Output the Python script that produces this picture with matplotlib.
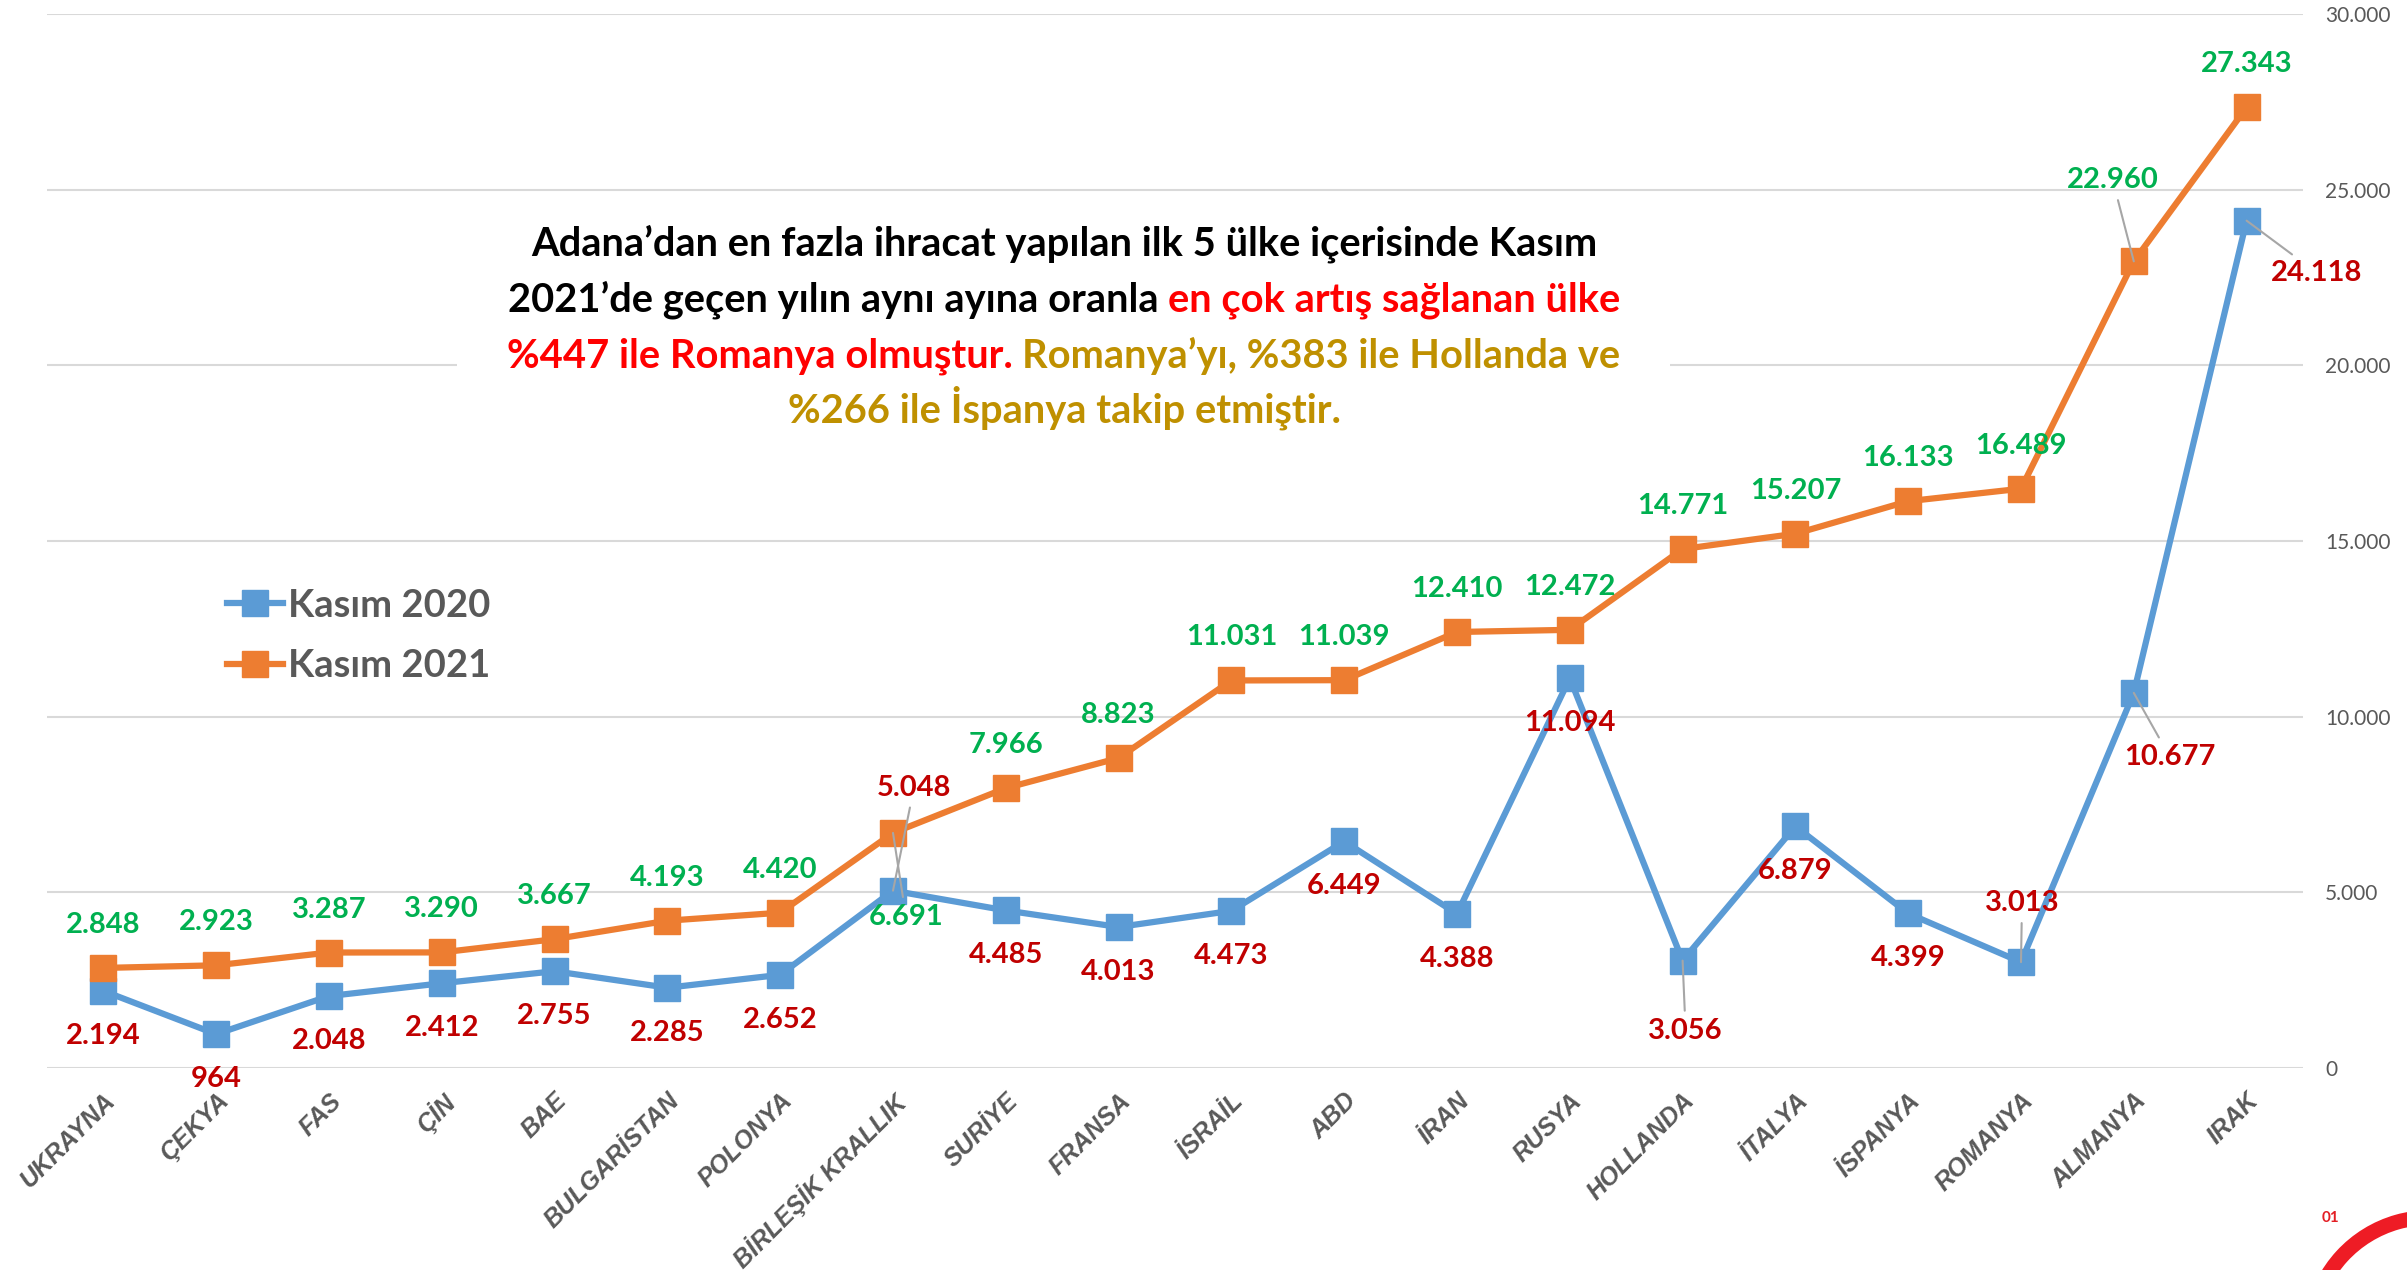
import matplotlib.pyplot as plt
from matplotlib.offsetbox import TextArea, HPacker, AnchoredOffsetbox
from matplotlib.patches import Rectangle, Arc
from matplotlib.lines import Line2D
from matplotlib.ticker import FuncFormatter

# veri
ulkeler = ["UKRAYNA", "ÇEKYA", "FAS", "ÇİN", "BAE", "BULGARİSTAN", "POLONYA",
           "BİRLEŞİK KRALLIK", "SURİYE", "FRANSA", "İSRAİL", "ABD", "İRAN",
           "RUSYA", "HOLLANDA", "İTALYA", "İSPANYA", "ROMANYA", "ALMANYA", "IRAK"]
kasim_2020 = [2194, 964, 2048, 2412, 2755, 2285, 2652, 5048, 4485, 4013,
              4473, 6449, 4388, 11094, 3056, 6879, 4399, 3013, 10677, 24118]
kasim_2021 = [2848, 2923, 3287, 3290, 3667, 4193, 4420, 6691, 7966, 8823,
              11031, 11039, 12410, 12472, 14771, 15207, 16133, 16489, 22960, 27343]

MAVI = "#5B9BD5"
TURUNCU = "#ED7D31"
YESIL = "#00B050"
KIRMIZI = "#C00000"
GRI = "#595959"

plt.rcParams['font.family'] = ['Lato', 'DejaVu Sans']

fig = plt.figure(figsize=(24.07, 12.70), dpi=100)
ax = fig.add_axes([47/2407, 1 - 1068/1270, 2256/2407, 1054/1270])

x = list(range(len(ulkeler)))
ax.plot(x, kasim_2020, color=MAVI, lw=4.5, marker='s', ms=19, zorder=3)
ax.plot(x, kasim_2021, color=TURUNCU, lw=4.5, marker='s', ms=19, zorder=4)

ax.set_xlim(-0.5, len(ulkeler) - 0.5)
ax.set_ylim(0, 30000)
ax.set_yticks(range(0, 30001, 5000))
ax.yaxis.tick_right()
ax.yaxis.set_major_formatter(FuncFormatter(lambda v, p: f"{int(v):,}".replace(",", ".")))
ax.tick_params(axis='y', length=0, pad=16, labelsize=15, labelcolor=GRI)
ax.set_xticks(x)
ax.set_xticklabels(ulkeler, rotation=45, ha='right', rotation_mode='anchor',
                   fontsize=18, fontweight='bold', fontstyle='italic', color=GRI,
                   family=['Liberation Sans', 'DejaVu Sans'])
ax.tick_params(axis='x', length=0, pad=15)
ax.grid(axis='y', color='#D9D9D9', lw=1.5)
ax.set_axisbelow(True)
for s in ax.spines.values():
    s.set_visible(False)


def fmt(v):
    return f"{v:,}".replace(",", ".")


# etiket konumlari (piksel kaydirma), cizgili olanlar
ozel_2020 = {7: (21, 103), 14: (3, -70), 17: (1, 59), 18: (36, -64), 19: (70, -52)}
ozel_2021 = {7: (13, -84), 18: (-21, 81)}


def etiket(i, v, off, renk, leader):
    ax.annotate(fmt(v), (i, v), xytext=off, textcoords='offset pixels',
                ha='center', va='center', fontsize=21, fontweight='bold', color=renk,
                arrowprops=dict(arrowstyle='-', color='#A6A6A6', lw=1.5,
                                shrinkA=3, shrinkB=0) if leader else None,
                zorder=6)


for i, v in enumerate(kasim_2020):
    etiket(i, v, ozel_2020.get(i, (0, -45)), KIRMIZI, i in ozel_2020)
for i, v in enumerate(kasim_2021):
    etiket(i, v, ozel_2021.get(i, (0, 43)), YESIL, i in ozel_2021)

# lejant
handles = [Line2D([], [], color=MAVI, lw=4.5, marker='s', ms=19),
           Line2D([], [], color=TURUNCU, lw=4.5, marker='s', ms=19)]
fig.legend(handles, ["Kasım 2020", "Kasım 2021"], loc='center left',
           bbox_to_anchor=(227/2407, 1 - 636/1270), frameon=False,
           prop=dict(weight='bold', size=27.5), labelcolor=GRI,
           handlelength=1.47, handletextpad=0.12, labelspacing=0.7,
           borderpad=0, borderaxespad=0)

# aciklama kutusu
fig.add_artist(Rectangle((457/2407, 1 - 440/1270), 1213/2407, 225/1270,
                         transform=fig.transFigure, fc='white', ec='none', zorder=2))
tp = dict(fontsize=28.7, fontweight='bold')
siyah, kir, altin = '#000000', '#FF0000', '#BF9000'
satirlar = [
    [("Adana’dan en fazla ihracat yapılan ilk 5 ülke içerisinde Kasım", siyah)],
    [("2021’de geçen yılın aynı ayına oranla", siyah), ("en çok artış sağlanan ülke", kir)],
    [("%447 ile Romanya olmuştur.", kir), ("Romanya’yı, %383 ile Hollanda ve", altin)],
    [("%266 ile İspanya takip etmiştir.", altin)],
]
satir_y = [244, 300, 356, 408]
for satir, yy in zip(satirlar, satir_y):
    parcalar = [TextArea(t, textprops=dict(color=c, **tp)) for t, c in satir]
    hp = HPacker(children=parcalar, align='baseline', pad=0, sep=6.5)
    ab = AnchoredOffsetbox(loc='center', child=hp, frameon=False, pad=0, borderpad=0,
                           bbox_to_anchor=(1064/2407, 1 - yy/1270),
                           bbox_transform=fig.transFigure)
    ab.set_zorder(3)
    fig.add_artist(ab)

# logo
fig.text(2330/2407, 1 - 1218/1270, "01", color='#E31E24', fontsize=11,
         fontweight='bold', ha='center', va='center')
fig.add_artist(Arc((2430/2407, 1 - 1337/1270), 2*119.5/2407, 2*119.5/1270,
                   theta1=60, theta2=160, transform=fig.transFigure,
                   color='#EE1C25', lw=10.8))

fig.savefig("out.png", dpi=100, facecolor='white')
